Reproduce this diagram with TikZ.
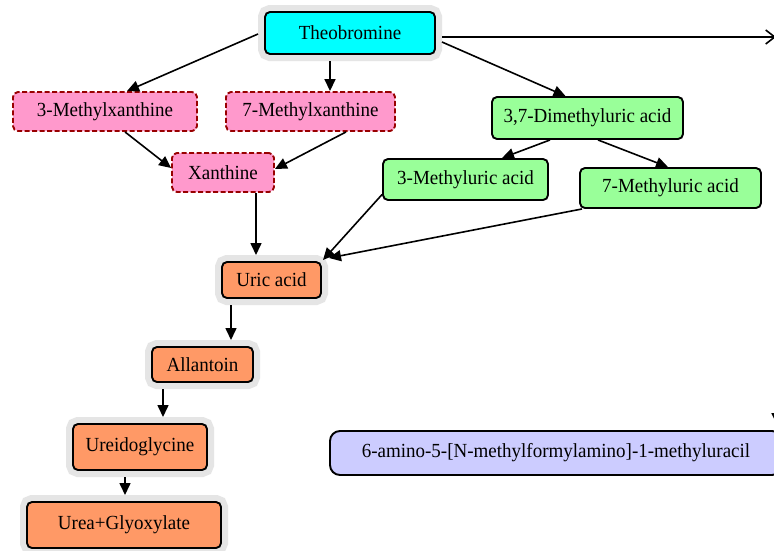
\documentclass[tikz,border=0pt]{standalone}
\usepackage{fontspec}
\setmainfont[FakeStretch=0.95]{Liberation Serif}
\usetikzlibrary{arrows.meta}
\definecolor{cyanbox}{RGB}{0,255,255}
\definecolor{pinkbox}{RGB}{255,153,204}
\definecolor{dashred}{RGB}{153,0,0}
\definecolor{greenbox}{RGB}{153,255,153}
\definecolor{orangebox}{RGB}{255,153,102}
\definecolor{bluebox}{RGB}{204,204,255}
\definecolor{halogray}{RGB}{229,229,229}
\begin{document}
\begin{tikzpicture}[x=1pt,y=-1pt,
  box/.style={rectangle, rounded corners=5pt, inner sep=0pt,
    font=\fontsize{20}{23}\selectfont, line width=1.9pt, draw=black},
  halobox/.style={box, outer sep=7pt,
    preaction={draw=halogray, fill=halogray, line width=14pt, rounded corners=5pt}},
  dashbox/.style={box, draw=dashred, fill=pinkbox, dash pattern=on 5pt off 2.5pt},
  greenb/.style={box, fill=greenbox},
  orangeb/.style={halobox, fill=orangebox},
  arr/.style={line width=1.6pt, -{Triangle[length=12pt,width=11pt]}}]
\useasboundingbox (0,0) rectangle (774,550);
\fill[white] (0,0) rectangle (774,550);

% nodes
\node[halobox, fill=cyanbox, minimum width=170pt, minimum height=42pt] (theo) at (350,33) {Theobromine};
\node[dashbox, minimum width=184pt, minimum height=39pt] (m3x) at (105,111.5) {3-Methylxanthine};
\node[dashbox, minimum width=169pt, minimum height=39pt] (m7x) at (310.5,111.5) {7-Methylxanthine};
\node[dashbox, minimum width=102pt, minimum height=39pt] (xan) at (223,172.5) {Xanthine};
\node[greenb, minimum width=191pt, minimum height=42pt] (dmu) at (587.5,118) {3,7-Dimethyluric acid};
\node[greenb, minimum width=165pt, minimum height=41pt] (mu3) at (465.5,179.5) {3-Methyluric acid};
\node[greenb, minimum width=181pt, minimum height=40pt] (mu7) at (670.5,188) {7-Methyluric acid};
\node[orangeb, minimum width=99pt, minimum height=36pt] (uric) at (271.5,280) {Uric acid};
\node[orangeb, minimum width=101pt, minimum height=35pt] (allan) at (202.5,364.5) {Allantoin};
\node[orangeb, minimum width=134pt, minimum height=46pt] (ureido) at (140,447) {Ureidoglycine};
\node[orangeb, minimum width=194pt, minimum height=46pt] (urea) at (124,525) {Urea+Glyoxylate};
\node[box, fill=bluebox, rounded corners=10pt, minimum width=452pt, minimum height=44pt] (blue) at (556,453) {6-amino-5-[N-methylformylamino]-1-methyluracil};

\coordinate (offr) at (776,37);
\coordinate (offa) at (777,390);

% connectors
\draw[arr] ([yshift=-1pt]theo.west) -- ([xshift=22pt]m3x.north);
\draw[arr] ([xshift=-20pt]theo.south) -- ([xshift=19.5pt]m7x.north);
\draw[arr] ([yshift=-9pt]theo.east) -- ([xshift=-22pt]dmu.north);
\draw[line width=1.6pt, -{Straight Barb[length=9pt,width=14pt]}] ([yshift=-4pt]theo.east) -- (offr);
\draw[arr] ([xshift=20pt]m3x.south) -- ([yshift=4.5pt]xan.west);
\draw[arr] ([xshift=35.5pt]m7x.south) -- ([yshift=3.5pt]xan.east);
\draw[arr] ([xshift=33pt]xan.south) -- ([xshift=-15.5pt]uric.north);
\draw[arr] ([xshift=-37.5pt]dmu.south) -- ([xshift=36.5pt]mu3.north);
\draw[arr] ([xshift=10.5pt]dmu.south) -- ([xshift=-2.5pt]mu7.north);
\draw[arr] ([yshift=-15pt]mu3.west) -- ([shift={(-5pt,-5pt)}]uric.north east);
\draw[arr] ([xshift=3pt]mu7.south west) -- ([shift={(1pt,-3pt)}]uric.north east);
\draw[arr] ([xshift=-40.5pt]uric.south) -- ([xshift=28.5pt]allan.north);
\draw[arr] ([xshift=-39.5pt]allan.south) -- ([xshift=23pt]ureido.north);
\draw[arr] ([xshift=-15pt]ureido.south) -- ([xshift=1pt]urea.north);
\draw[arr] (offa) -- ([shift={(221pt,5pt)}]blue.north);
\end{tikzpicture}
\end{document}
